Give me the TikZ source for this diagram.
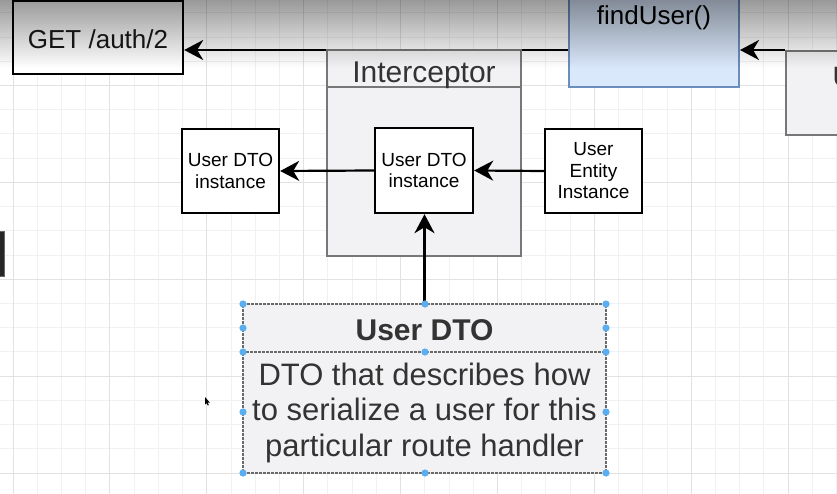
\documentclass[tikz,border=0pt]{standalone}
\usepackage{fontspec}
\setmainfont{Liberation Sans}
\usetikzlibrary{arrows.meta,fadings}
\definecolor{gridminor}{HTML}{F1F1F1}
\definecolor{gridmajor}{HTML}{E2E2E2}
\definecolor{icptfill}{HTML}{F2F2F4}
\definecolor{icptline}{HTML}{777777}
\definecolor{userfill}{HTML}{DAE8FC}
\definecolor{userline}{HTML}{6C8EBF}
\definecolor{cardtext}{HTML}{333333}
\definecolor{cardline}{HTML}{6A6A6A}
\definecolor{handle}{HTML}{5AAEF0}
\tikzfading[name=topshade, top color=transparent!0, bottom color=transparent!100]

\begin{document}
\begin{tikzpicture}[x=1pt, y=-1pt,
  box/.style={draw=black, line width=2.4pt, fill=white, inner sep=0pt, align=center},
  dtobox/.style={box, minimum width=97pt, minimum height=84pt, font=\fontsize{19}{21.5}\selectfont},
  flow/.style={line width=2.2pt, -{Stealth[length=19pt, width=20pt, inset=6pt]}},
  graybox/.style={draw=icptline, line width=2pt, fill=icptfill, inner sep=0pt},
  bigtext/.style={inner sep=0pt, anchor=base, font=\fontsize{26}{30}\selectfont}]
  \useasboundingbox (0,0) rectangle (837,494);
  \clip (0,0) rectangle (837,494);
  \fill[white] (0,0) rectangle (837,494);
  % grid
  \foreach \k in {0,...,34}
    \draw[gridminor, line width=0.8pt] ({13+24.22*\k},0) -- ({13+24.22*\k},494);
  \foreach \k in {0,...,20}
    \draw[gridminor, line width=0.8pt] (0,{12.8+24.22*\k}) -- (837,{12.8+24.22*\k});
  \foreach \k in {0,4,...,32}
    \draw[gridmajor, line width=0.8pt] ({13+24.22*\k},0) -- ({13+24.22*\k},494);
  \foreach \k in {3,7,...,19}
    \draw[gridmajor, line width=0.8pt] (0,{12.8+24.22*\k}) -- (837,{12.8+24.22*\k});

  % request chain along the top
  \node[box, minimum width=170pt, minimum height=73pt] (get) at (98,37.5) {};
  \node[bigtext, text=black!90] (gettext) at (98,48.3) {GET /auth/2};
  \node[box, draw=userline, fill=userfill, line width=2pt, minimum width=170pt, minimum height=150pt] (fu) at (654,12) {};
  \node[bigtext] (futext) at (654,25) {findUser()};
  \node[graybox, minimum width=120pt, minimum height=84pt] (ctrl) at (846,93) {};
  \node[inner sep=0pt, anchor=base west, font=\fontsize{28}{30}\selectfont, text=cardtext] (ctrltext) at (832.5,86.7) {U};
  \coordinate (rail) at (0,50);
  \draw[flow] (ctrl.north west) -- (ctrl.north west -| fu.east);
  \draw[flow] (fu.west |- rail) -- (get.east |- rail);

  % interceptor
  \node[graybox, minimum width=194pt, minimum height=206pt] (icpt) at (424,153) {};
  \coordinate (icptsep) at (424,87);
  \draw[icptline, line width=2pt] (icpt.west |- icptsep) -- (icpt.east |- icptsep);
  \node[bigtext, font=\fontsize{30}{32}\selectfont, text=cardtext] (icpttext) at (424,82.3) {Interceptor};

  \node[dtobox, minimum width=98pt, minimum height=85pt] (inner) at (424,170.5) {User DTO\\instance};
  \node[dtobox] (outdto) at (230.5,171) {User DTO\\instance};
  \node[dtobox] (entity) at (593.5,171) {User\\Entity\\Instance};
  \draw[flow] (inner.west) -- (outdto.east);
  \draw[flow] (entity.west) -- (inner.east);

  % the selected DTO card
  \node[draw=cardline, dash pattern=on 3pt off 1pt, line width=1.8pt, fill=icptfill,
        minimum width=363pt, minimum height=169pt, inner sep=0pt] (card) at (424.5,388.5) {};
  \coordinate (cardsep) at (424.5,352);
  \draw[cardline, dash pattern=on 3pt off 1pt, line width=1.8pt] (card.west |- cardsep) -- (card.east |- cardsep);
  \node[inner sep=0pt, font=\bfseries\fontsize{30}{32}\selectfont, text=cardtext] (cardtitle) at (424.5,330) {User DTO};
  \node[inner sep=0pt, align=center, font=\fontsize{31}{35.5}\selectfont, text=cardtext] (cardbody) at (424.5,412.5)
    {DTO that describes how\\to serialize a user for this\\particular route handler};
  \draw[flow] (card.north) -- (card.north |- inner.south);
  \foreach \hx/\hy in {243/304,425/304,606/304,243/328,606/328,243/352,425/352,606/352,243/412,606/412,243/473,425/473,606/473}
    \fill[handle] (\hx,\hy) circle[radius=3.6pt];

  % toolbar shadow, side bar, cursor
  \fill[black, opacity=0.4, path fading=topshade] (0,0) rectangle (837,68);
  \fill[black!85, draw=black!60] (-2,231) rectangle (4,276);
  \fill[black] (205,397) -- (205,404.5) -- (206.6,403) -- (207.8,405.5) -- (208.8,405) -- (207.7,402.6) -- (209.8,402.6) -- cycle;
\end{tikzpicture}
\end{document}
